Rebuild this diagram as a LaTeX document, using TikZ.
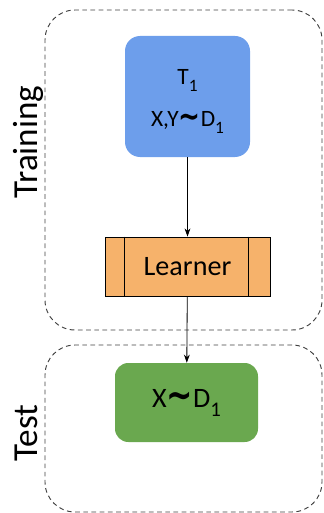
\documentclass[tikz,border=0pt]{standalone}
\usepackage{fontspec}
\setmainfont{Carlito}
\newfontfamily\tildefont{DejaVu Sans}
\usetikzlibrary{positioning,arrows.meta}
\definecolor{taskblue}{RGB}{109,158,235}
\definecolor{learnorange}{RGB}{246,178,107}
\definecolor{testgreen}{RGB}{106,168,79}
\tikzstyle{phase} = [rectangle, rounded corners=0.9cm, draw=black!75, line width=0.8pt, dash pattern=on 4pt off 3pt, minimum width=8.31cm]
\tikzstyle{task} = [rectangle, rounded corners=0.45cm, fill=taskblue, minimum width=3.75cm, minimum height=3.63cm, align=center, font=\fontsize{20}{36}\selectfont]
\tikzstyle{learner} = [rectangle, draw=black, line width=0.7pt, fill=learnorange, minimum width=4.95cm, minimum height=1.77cm, font=\fontsize{24}{28}\selectfont]
\tikzstyle{query} = [rectangle, rounded corners=0.4cm, fill=testgreen, minimum width=4.29cm, minimum height=2.37cm, font=\fontsize{24}{28}\selectfont]
\tikzstyle{phaselabel} = [rotate=90, anchor=base, inner sep=0pt, font=\fontsize{30}{32}\selectfont]
\tikzstyle{arrow} = [line width=0.7pt, -{Stealth[length=7pt, width=5pt]}]
\newcommand{\dist}{\raisebox{-0.06em}{\scalebox{1.12}[1.4]{\tildefont\bfseries\char"007E}}}
\newcommand{\idx}[1]{\raisebox{-0.32em}{\scalebox{0.74}{#1}}}

\begin{document}
\begin{tikzpicture}
        \useasboundingbox (0,0) rectangle (9.69,-15.39);

        \node (training) [phase, minimum height=9.6cm] at (5.505,-5.1) {};
        \node (test) [phase, minimum height=5.01cm] at (5.505,-12.855) {};
        \node (trainlabel) [phaselabel] at (1.11,-4.26) {Training};
        \node (testlabel) [phaselabel] at (1.11,-12.99) {Test};

        \node (task) [task] at (5.625,-2.895) {\rule{0pt}{0.75cm}T\idx{1}\\ X,Y\dist D\idx{1}};
        \node (learn) [learner] at (5.625,-7.995) {Learner};
        \node (query) [query] at (5.595,-12.075) {X\dist D\idx{1}};

        \draw [line width=0.7pt] ([xshift=0.6cm]learn.north west) -- ([xshift=0.6cm]learn.south west);
        \draw [line width=0.7pt] ([xshift=-0.66cm]learn.north east) -- ([xshift=-0.66cm]learn.south east);

        \draw [arrow] (task) -- (learn);
        \draw [arrow] (learn) -- (query);

\end{tikzpicture}
\end{document}
